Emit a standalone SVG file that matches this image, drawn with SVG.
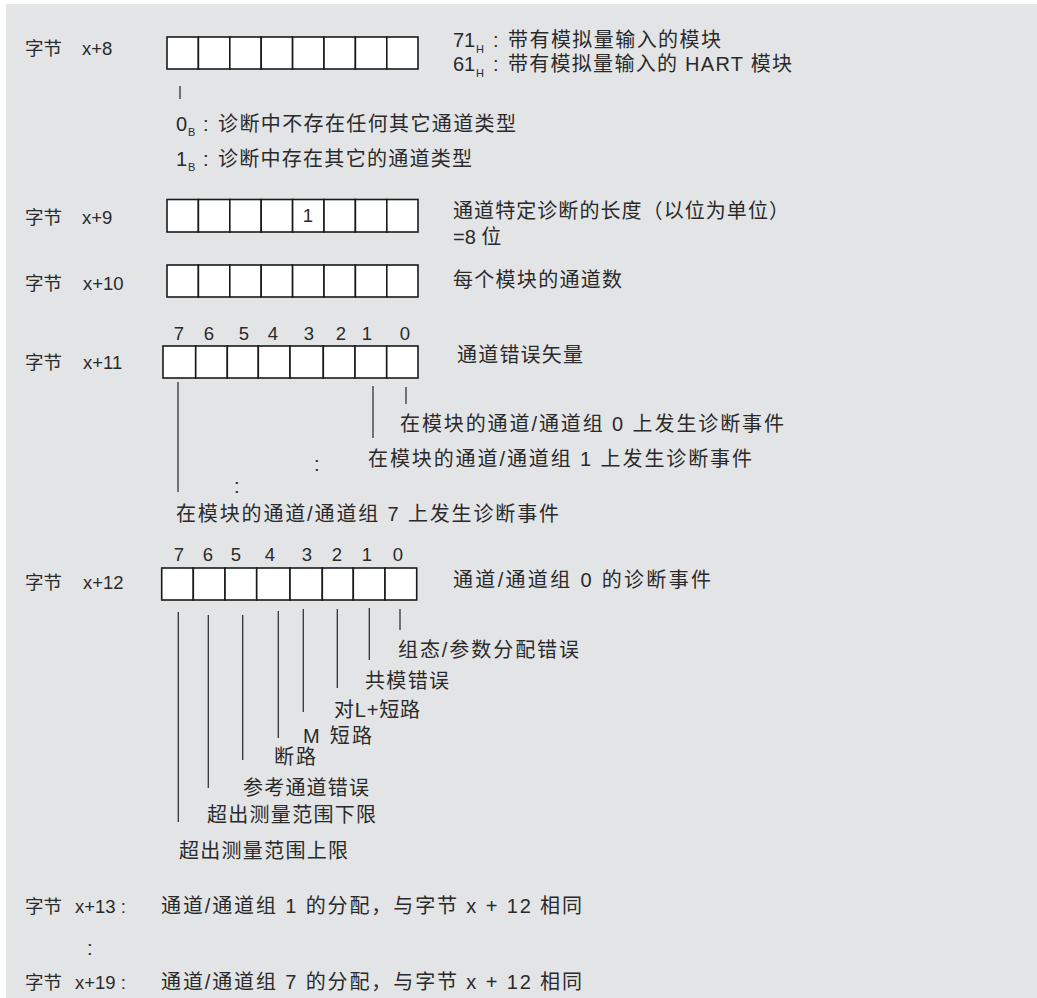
<svg xmlns="http://www.w3.org/2000/svg" width="1037" height="998" viewBox="0 0 1037 998">
<style>
text{font-family:"Liberation Sans","Noto Sans CJK SC",sans-serif;fill:#2a2a2a}
.l{font-size:18.5px}
.d{font-size:20px}
.n{font-size:18.5px;text-anchor:middle}
.s{font-size:11px}
.cell{fill:#fff;stroke:#1a1a1a;stroke-width:1.6}
.ln{stroke:#333;stroke-width:1.3;fill:none}
</style>
<rect x="6" y="4" width="1031" height="994" fill="#e3e4e6"/>

<g id="byte8">
<text class="l" x="25" y="55">字节</text><text class="l" x="82" y="55">x+8</text>
<g>
<rect class="cell" x="167" y="37" width="31.4" height="32"/><rect class="cell" x="198.4" y="37" width="31.4" height="32"/><rect class="cell" x="229.8" y="37" width="31.4" height="32"/><rect class="cell" x="261.2" y="37" width="31.4" height="32"/><rect class="cell" x="292.6" y="37" width="31.4" height="32"/><rect class="cell" x="324" y="37" width="31.4" height="32"/><rect class="cell" x="355.4" y="37" width="31.4" height="32"/><rect class="cell" x="386.8" y="37" width="31.2" height="32"/>
</g>
<text class="d" x="453" y="47">71</text><text class="s" x="476" y="53">H</text><text class="d" x="493" y="47">:</text><text class="d" x="508" y="47" textLength="213">带有模拟量输入的模块</text>
<text class="d" x="453" y="71">61</text><text class="s" x="476" y="77">H</text><text class="d" x="493" y="71">:</text><text class="d" x="508" y="71" textLength="284">带有模拟量输入的 HART 模块</text>
<text class="d" x="176" y="131">0</text><text class="s" x="188" y="136">B</text><text class="d" x="203" y="131">:</text><text class="d" x="218" y="131" textLength="298">诊断中不存在任何其它通道类型</text>
<text class="d" x="176" y="166">1</text><text class="s" x="188" y="171">B</text><text class="d" x="203" y="166">:</text><text class="d" x="218" y="166" textLength="254">诊断中存在其它的通道类型</text>
</g>

<g id="byte9">
<text class="l" x="25" y="224">字节</text><text class="l" x="82" y="224">x+9</text>
<rect class="cell" x="167" y="199.5" width="31.4" height="32.5"/><rect class="cell" x="198.4" y="199.5" width="31.4" height="32.5"/><rect class="cell" x="229.8" y="199.5" width="31.4" height="32.5"/><rect class="cell" x="261.2" y="199.5" width="31.4" height="32.5"/><rect class="cell" x="292.6" y="199.5" width="31.4" height="32.5"/><rect class="cell" x="324" y="199.5" width="31.4" height="32.5"/><rect class="cell" x="355.4" y="199.5" width="31.4" height="32.5"/><rect class="cell" x="386.8" y="199.5" width="31.2" height="32.5"/>
<text class="n" x="308" y="222">1</text>
<text class="d" x="453" y="218" textLength="336">通道特定诊断的长度（以位为单位）</text>
<text class="d" x="453" y="244">=8 位</text>
</g>

<g id="byte10">
<text class="l" x="25" y="290">字节</text><text class="l" x="83" y="290">x+10</text>
<rect class="cell" x="167" y="265" width="31.4" height="32"/><rect class="cell" x="198.4" y="265" width="31.4" height="32"/><rect class="cell" x="229.8" y="265" width="31.4" height="32"/><rect class="cell" x="261.2" y="265" width="31.4" height="32"/><rect class="cell" x="292.6" y="265" width="31.4" height="32"/><rect class="cell" x="324" y="265" width="31.4" height="32"/><rect class="cell" x="355.4" y="265" width="31.4" height="32"/><rect class="cell" x="386.8" y="265" width="31.2" height="32"/>
<text class="d" x="453" y="287" textLength="169">每个模块的通道数</text>
</g>

<g id="byte11">
<text class="l" x="25" y="369">字节</text><text class="l" x="83" y="369">x+11</text>
<text class="n" x="179" y="340">7</text><text class="n" x="209" y="340">6</text><text class="n" x="244" y="340">5</text><text class="n" x="273" y="340">4</text><text class="n" x="309" y="340">3</text><text class="n" x="341" y="340">2</text><text class="n" x="367" y="340">1</text><text class="n" x="405" y="340">0</text>
<rect class="cell" x="163" y="346" width="32.7" height="32"/><rect class="cell" x="195.7" y="346" width="31.6" height="32"/><rect class="cell" x="227.3" y="346" width="31" height="32"/><rect class="cell" x="258.3" y="346" width="31.7" height="32"/><rect class="cell" x="290" y="346" width="33.3" height="32"/><rect class="cell" x="323.3" y="346" width="31.7" height="32"/><rect class="cell" x="355" y="346" width="31.7" height="32"/><rect class="cell" x="386.7" y="346" width="31.3" height="32"/>
<text class="d" x="457" y="362" textLength="126">通道错误矢量</text>
<text class="d" x="400" y="431" textLength="384">在模块的通道/通道组 0 上发生诊断事件</text>
<text class="d" x="368" y="466" textLength="384">在模块的通道/通道组 1 上发生诊断事件</text>
<text class="d" x="314" y="471">:</text>
<text class="d" x="234" y="493">:</text>
<text class="d" x="176" y="521" textLength="383">在模块的通道/通道组 7 上发生诊断事件</text>
</g>

<g id="byte12">
<text class="l" x="25" y="589">字节</text><text class="l" x="83" y="589">x+12</text>
<text class="n" x="179" y="561">7</text><text class="n" x="208" y="561">6</text><text class="n" x="236" y="561">5</text><text class="n" x="270" y="561">4</text><text class="n" x="307" y="561">3</text><text class="n" x="337" y="561">2</text><text class="n" x="367" y="561">1</text><text class="n" x="398" y="561">0</text>
<rect class="cell" x="161.7" y="568" width="31.6" height="32"/><rect class="cell" x="193.3" y="568" width="31.7" height="32"/><rect class="cell" x="225" y="568" width="31.7" height="32"/><rect class="cell" x="256.7" y="568" width="33.3" height="32"/><rect class="cell" x="290" y="568" width="32.3" height="32"/><rect class="cell" x="322.3" y="568" width="31" height="32"/><rect class="cell" x="353.3" y="568" width="31.7" height="32"/><rect class="cell" x="385" y="568" width="31.7" height="32"/>
<text class="d" x="453" y="587" textLength="258">通道/通道组 0 的诊断事件</text>
<text class="d" x="398" y="657" textLength="181">组态/参数分配错误</text>
<text class="d" x="365" y="688" textLength="84">共模错误</text>
<text class="d" x="334" y="717" textLength="86">对L+短路</text>
<text class="d" x="303" y="743" textLength="69">M 短路</text>
<text class="d" x="274" y="764" textLength="42">断路</text>
<text class="d" x="243" y="795" textLength="126">参考通道错误</text>
<text class="d" x="207" y="822" textLength="169">超出测量范围下限</text>
<text class="d" x="179" y="858" textLength="169">超出测量范围上限</text>
</g>

<g id="byte13">
<text class="l" x="25" y="913">字节</text><text class="l" x="75" y="913">x+13 :</text>
<text class="d" x="161" y="913" textLength="421">通道/通道组 1 的分配，与字节 x + 12 相同</text>
<text class="d" x="87" y="955">:</text>
</g>

<g id="byte19">
<text class="l" x="25" y="989">字节</text><text class="l" x="75" y="989">x+19 :</text>
<text class="d" x="161" y="989" textLength="421">通道/通道组 7 的分配，与字节 x + 12 相同</text>
</g>

<g id="connectors">
<line class="ln" x1="180" y1="86" x2="180" y2="99"/>
<line class="ln" x1="178" y1="382" x2="178" y2="492"/>
<line class="ln" x1="373" y1="386" x2="373" y2="438"/>
<line class="ln" x1="406" y1="387" x2="406" y2="404"/>
<line class="ln" x1="178.3" y1="612" x2="178.3" y2="822"/>
<line class="ln" x1="208.3" y1="615" x2="208.3" y2="788"/>
<line class="ln" x1="242.7" y1="615" x2="242.7" y2="760"/>
<line class="ln" x1="278.3" y1="611" x2="278.3" y2="738"/>
<line class="ln" x1="303.3" y1="609" x2="303.3" y2="712"/>
<line class="ln" x1="337.3" y1="609" x2="337.3" y2="688"/>
<line class="ln" x1="369.3" y1="608" x2="369.3" y2="660"/>
<line class="ln" x1="400" y1="609" x2="400" y2="630"/>
</g>
</svg>
